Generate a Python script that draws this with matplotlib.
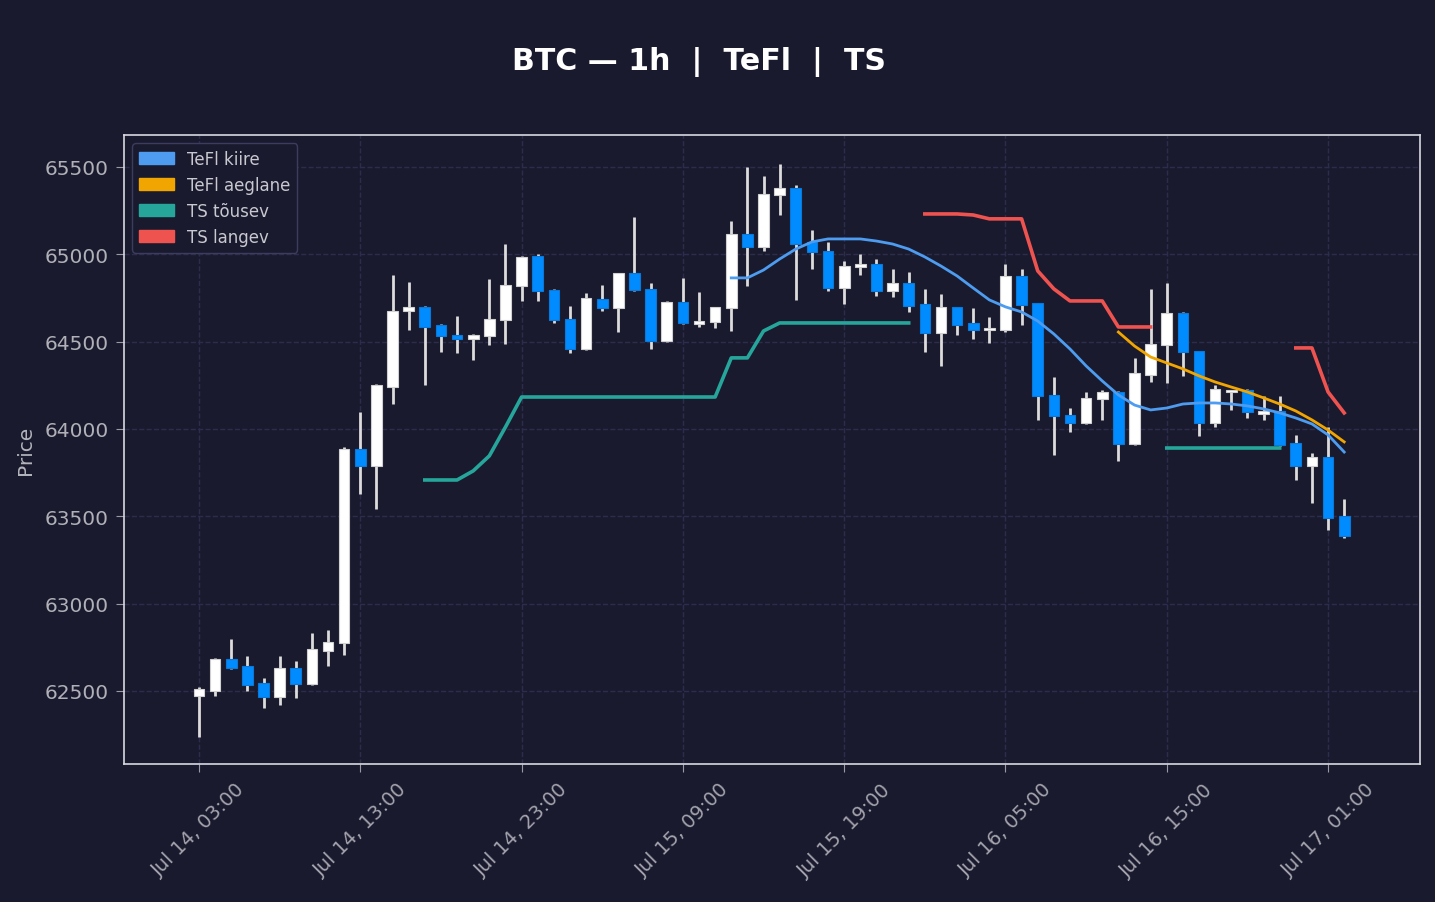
import numpy as np
import pandas as pd
import matplotlib
matplotlib.use("Agg")
import matplotlib.pyplot as plt
from matplotlib.patches import Patch

# ---- andmed (loetud pildilt) ----
times = pd.date_range("2024-07-14 03:00", periods=72, freq="h")

opens = [62472, 62500, 62683, 62643, 62546, 62466, 62632, 62540, 62729, 62775,
         63886, 63788, 64240, 64676, 64699, 64595, 64538, 64515, 64532, 64624,
         64819, 64990, 64796, 64630, 64458, 64744, 64693, 64893, 64802, 64504,
         64727, 64601, 64613, 64693, 65116, 65042, 65340, 65380, 65071, 65019,
         64807, 64928, 64945, 64790, 64836, 64716, 64550, 64699, 64607, 64567,
         64567, 64876, 64721, 64195, 64080, 64034, 64172, 64212, 63914, 64309,
         64481, 64664, 64447, 64034, 64212, 64223, 64086, 64103, 63920, 63788,
         63840, 63502]
highs = [62520, 62689, 62798, 62700, 62575, 62700, 62672, 62832, 62849, 63897,
         64097, 64258, 64882, 64842, 64705, 64600, 64647, 64544, 64859, 65059,
         64990, 65001, 64802, 64704, 64779, 64824, 64893, 65214, 64836, 64730,
         64865, 64784, 64699, 65191, 65500, 65448, 65517, 65397, 65139, 65071,
         64962, 65002, 64973, 64916, 64899, 64802, 64773, 64699, 64693, 64641,
         64945, 64916, 64721, 64298, 64120, 64212, 64223, 64215, 64407, 64802,
         64836, 64670, 64447, 64252, 64223, 64229, 64189, 64189, 63966, 63863,
         64012, 63599]
lows = [62237, 62472, 62625, 62500, 62403, 62420, 62460, 62535, 62643, 62706,
        63628, 63542, 64143, 64567, 64252, 64441, 64435, 64395, 64481, 64487,
        64733, 64733, 64607, 64435, 64452, 64676, 64555, 64790, 64458, 64500,
        64600, 64584, 64578, 64561, 64819, 65019, 65225, 64739, 64916, 64790,
        64716, 64882, 64761, 64756, 64670, 64441, 64361, 64538, 64515, 64492,
        64555, 64595, 64052, 63851, 63983, 64030, 64052, 63817, 63910, 64269,
        64263, 64303, 63960, 64011, 64109, 64063, 64052, 63903, 63708, 63576,
        63422, 63376]
closes = [62511, 62683, 62632, 62532, 62466, 62632, 62540, 62741, 62781, 63886,
          63788, 64252, 64676, 64699, 64584, 64532, 64515, 64538, 64630, 64824,
          64985, 64790, 64624, 64458, 64750, 64693, 64893, 64796, 64504, 64727,
          64607, 64618, 64699, 65116, 65042, 65345, 65380, 65059, 65013, 64807,
          64933, 64945, 64790, 64836, 64704, 64550, 64699, 64595, 64567, 64578,
          64876, 64710, 64189, 64074, 64034, 64178, 64212, 63914, 64321, 64487,
          64664, 64441, 64034, 64229, 64223, 64097, 64103, 63908, 63788, 63840,
          63490, 63387]

nan = np.nan
tefl_kiire = [nan] * 33 + [
    64865, 64865, 64910, 64973, 65030, 65071, 65088, 65088, 65088, 65076,
    65059, 65030, 64985, 64933, 64876, 64807, 64739, 64699, 64670, 64618,
    64544, 64458, 64361, 64275, 64195, 64137, 64109, 64120, 64143, 64149,
    64149, 64143, 64132, 64115, 64092, 64063, 64029, 63966, 63868]
tefl_aeglane = [nan] * 57 + [
    64555, 64475, 64412, 64378, 64344, 64304, 64269, 64240, 64212, 64178,
    64143, 64103, 64052, 63994, 63926]
ts_tousev = [nan] * 14 + [
    63708, 63708, 63708, 63760, 63846, 64011, 64183, 64183, 64183, 64183,
    64183, 64183, 64183, 64183, 64183, 64183, 64183, 64183, 64183, 64407,
    64407, 64561, 64607, 64607, 64607, 64607, 64607, 64607, 64607, 64607,
    64607] + [nan] * 15 + [
    63891, 63891, 63891, 63891, 63891, 63891, 63891, 63891] + [nan] * 4
ts_langev = [nan] * 45 + [
    65231, 65231, 65231, 65225, 65203, 65203, 65203, 64905, 64802, 64733,
    64733, 64733, 64584, 64584, 64584] + [nan] * 8 + [
    64464, 64464, 64212, 64092]

tick_idx = list(range(0, 72, 10))
tick_labels = [times[i].strftime("%b %d, %H:%M") for i in tick_idx]

BG = "#1a1a2e"
UP = "#ffffff"
DOWN = "#008cff"
C_KIIRE = "#4d9cf0"
C_AEG = "#f0a500"
C_TOUS = "#26a69a"
C_LANG = "#ef5350"

plt.rcParams["font.family"] = ["DejaVu Sans"]

fig = plt.figure(figsize=(14.35, 9.03), dpi=100, facecolor=BG)
ax = fig.add_axes([124 / 1435, 1 - 765 / 903, 1296 / 1435, 629 / 903])
ax.set_facecolor(BG)

x = np.arange(len(opens))
o = np.array(opens, float)
h = np.array(highs, float)
l = np.array(lows, float)
c = np.array(closes, float)
up = c >= o

# küünlad
ax.vlines(x, l, h, color="#dcdcdc", lw=2, zorder=2)
body_lo = np.minimum(o, c)
body_h = np.maximum(np.abs(c - o), 12)
cols = np.where(up, UP, DOWN)
edges = np.where(up, "#d0d0d0", "#0a78d8")
ax.bar(x, body_h, bottom=body_lo, width=0.66, color=cols,
       edgecolor=edges, linewidth=0.8, zorder=3)

# indikaatorid
ax.plot(x, tefl_kiire, color=C_KIIRE, lw=2, zorder=4)
ax.plot(x, tefl_aeglane, color=C_AEG, lw=2, zorder=4)
ax.plot(x, ts_tousev, color=C_TOUS, lw=2.6, zorder=4)
ax.plot(x, ts_langev, color=C_LANG, lw=2.6, zorder=4)

ax.set_xlim(-4.65, 75.7)
ax.set_ylim(62082, 65683)
ax.set_yticks(np.arange(62500, 65501, 500))
ax.set_xticks(tick_idx)
ax.set_xticklabels(tick_labels, rotation=45)

ax.grid(True, color="#2c2c4c", ls="--", lw=1)
ax.set_axisbelow(True)
ax.tick_params(axis="both", colors="#9a9aa6", labelsize=14, length=6,
               pad=5)
ax.tick_params(axis="y", labelcolor="#b0b0b8", labelsize=14.5)
ax.tick_params(axis="x", labelcolor="#a4a4ae")
for s in ax.spines.values():
    s.set_color("#d8d8e0")
    s.set_linewidth(1.2)

ax.set_ylabel("Price", color="#b4b4bc", fontsize=14.5, labelpad=7)

handles = [Patch(color=C_KIIRE, label="TeFl kiire"),
           Patch(color=C_AEG, label="TeFl aeglane"),
           Patch(color=C_TOUS, label="TS tõusev"),
           Patch(color=C_LANG, label="TS langev")]
ax.legend(handles=handles, loc="upper left", fontsize=12,
          facecolor=BG, edgecolor="#3c3c60", framealpha=1,
          labelcolor="#c8c8d0", borderaxespad=0.5, labelspacing=0.48,
          handlelength=2.1)

fig.suptitle("BTC — 1h  |  TeFl  |  TS", x=699 / 1435, y=1 - 62 / 903,
             va="center", color="white", fontsize=21.6, fontweight="bold")

fig.savefig("out.png", dpi=100, facecolor=BG)
